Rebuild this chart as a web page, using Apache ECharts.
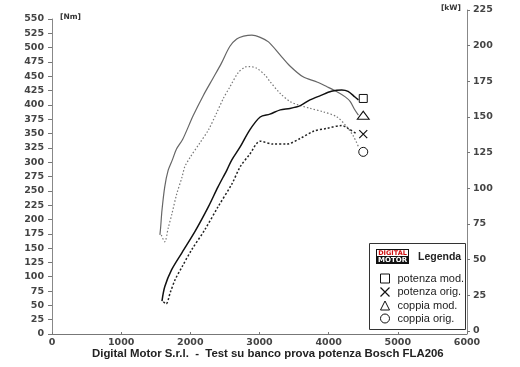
<!DOCTYPE html>
<html><head><meta charset="utf-8">
<script src="https://cdn.jsdelivr.net/npm/echarts@6/dist/echarts.min.js"></script>
<style>html,body{margin:0;padding:0;background:#fff}#c{width:520px;height:367px}</style>
</head><body><div id="c"></div>
<script>
// ---- data ----
const rpmMin = 0, rpmMax = 6000, rpmStep = 1000;
const nmMin = 0, nmMax = 550, nmStep = 25;
const kwMin = 0, kwMax = 225, kwStep = 25;

const seriesNames = ['potenza mod.', 'potenza orig.', 'coppia mod.', 'coppia orig.'];

const coppiaModRpm = [1560,1570,1590,1630,1680,1740,1800,1890,2040,2190,2330,2450,2570,2670,2770,2890,3010,3130,3300,3440,3630,3830,3970,4120,4240,4310,4380,4430];
const coppiaModNm  = [173,185,216,257,286,304,323,340,381,417,447,473,502,515,520,522,518,510,487,468,449,440,432,423,414,406,391,382];

const coppiaOrigRpm = [1580,1630,1680,1730,1800,1880,1920,2000,2140,2260,2380,2480,2570,2690,2790,2860,2960,3080,3150,3300,3440,3560,3730,3920,4120,4260,4360,4430];
const coppiaOrigNm  = [173,161,185,208,243,274,292,309,334,356,386,412,431,456,466,467,464,452,441,420,406,400,394,388,379,362,345,327];

const potenzaModRpm = [1590,1630,1730,1880,2070,2260,2400,2530,2600,2720,2860,3010,3150,3300,3440,3590,3730,3880,4040,4190,4280,4380,4430];
const potenzaModKw  = [21,31,43,55,70,87,101,113,120,129,141,150,152,155,156,158,162,165,168,169,168,164,162];

const potenzaOrigRpm = [1610,1650,1710,1780,1880,2020,2210,2400,2600,2720,2860,3010,3200,3390,3590,3780,3970,4190,4280,4410];
const potenzaOrigKw  = [20.5,19,27,36,45,57,71,87,103,115,124,133,131,131,135,140,142,144,142,138];

// end-of-curve markers
const markerRpm = 4500;
const markerPotenzaMod = 163, markerPotenzaOrig = 138, markerCoppiaMod = 382, markerCoppiaOrig = 318;

const titleText = 'Digital Motor S.r.l.  -  Test su banco prova potenza Bosch FLA206';

// ---- chart ----
const zip = (a, b) => a.map((v, i) => [v, b[i]]);
const X_PATH = 'path://M0,0L10,10M10,0L0,10';
const tickFont = {fontFamily: 'DejaVu Sans', fontWeight: 'bold', fontSize: 9.5, color: '#444', formatter: v => String(v)};
const hollow = {color: '#fff', borderColor: '#111', borderWidth: 1};

function mp(value, symbol, size) {
  return {
    symbol: symbol, symbolSize: size, silent: true,
    itemStyle: symbol === X_PATH ? {color: 'none', borderColor: '#111', borderWidth: 1.2} : hollow,
    label: {show: false},
    data: [{coord: [markerRpm, value]}]
  };
}

const chart = echarts.init(document.getElementById('c'), null, {renderer: 'canvas'});
chart.setOption({
  animation: false,
  backgroundColor: '#fff',
  title: {
    text: titleText, left: 92, top: 348, padding: 0,
    textStyle: {fontFamily: 'Liberation Sans, sans-serif', fontWeight: 'bold', fontSize: 11.4, color: '#222'}
  },
  grid: [
    {left: 52, right: 53, top: 19, bottom: 33},
    {left: 52, right: 53, top: 10, bottom: 36}
  ],
  xAxis: [
    {type: 'value', gridIndex: 0, min: rpmMin, max: rpmMax, interval: rpmStep,
     axisLine: {onZero: false, lineStyle: {color: '#777', width: 1}},
     axisTick: {inside: true, length: 2, lineStyle: {color: '#777'}},
     axisLabel: Object.assign({margin: 4}, tickFont),
     splitLine: {show: false}},
    {type: 'value', gridIndex: 1, min: rpmMin, max: rpmMax, show: false}
  ],
  yAxis: [
    {type: 'value', gridIndex: 0, position: 'left', min: nmMin, max: nmMax, interval: nmStep,
     name: '[Nm]', nameLocation: 'end', nameGap: 2,
     nameTextStyle: {fontFamily: 'DejaVu Sans', fontWeight: 'bold', fontSize: 7.5, color: '#333', align: 'left', verticalAlign: 'middle', padding: [0, 0, 0, 8]},
     axisLine: {show: true, onZero: false, lineStyle: {color: '#888', width: 1}},
     axisTick: {show: true, length: 4, lineStyle: {color: '#777'}},
     axisLabel: Object.assign({margin: 8}, tickFont),
     splitLine: {show: false}},
    {type: 'value', gridIndex: 1, position: 'right', min: kwMin, max: kwMax, interval: kwStep,
     name: '[kW]', nameLocation: 'end', nameGap: 2,
     nameTextStyle: {fontFamily: 'DejaVu Sans', fontWeight: 'bold', fontSize: 7.5, color: '#333', align: 'right', verticalAlign: 'middle', padding: [0, 6, 0, 0]},
     axisLine: {show: true, onZero: false, lineStyle: {color: '#888', width: 1}},
     axisTick: {show: true, length: 3, lineStyle: {color: '#777'}},
     axisLabel: Object.assign({margin: 6}, tickFont),
     splitLine: {show: false}}
  ],
  legend: {
    orient: 'vertical', left: 378, top: 272, itemWidth: 9, itemHeight: 9, itemGap: 0,
    selectedMode: false, padding: 0,
    textStyle: {fontFamily: 'Liberation Sans', fontSize: 11, color: '#222', lineHeight: 13, padding: [0, 0, 0, 3]},
    data: [
      {name: seriesNames[0], icon: 'rect', itemStyle: hollow},
      {name: seriesNames[1], icon: X_PATH, itemStyle: {color: 'none', borderColor: '#111', borderWidth: 1.2}},
      {name: seriesNames[2], icon: 'triangle', itemStyle: hollow},
      {name: seriesNames[3], icon: 'circle', itemStyle: hollow}
    ]
  },
  graphic: [
    {type: 'rect', shape: {x: 369.5, y: 243.5, width: 96, height: 86}, style: {fill: '#fff', stroke: '#333', lineWidth: 1}, z: 0},
    {type: 'rect', shape: {x: 376, y: 249, width: 33, height: 15}, style: {fill: '#111'}, z: 1},
    {type: 'rect', shape: {x: 377, y: 250, width: 31, height: 6}, style: {fill: '#fff'}, z: 2},
    {type: 'text', x: 392.5, y: 253.3, z: 3, style: {text: 'DIGITAL', fill: '#d01010', font: 'bold 6.5px DejaVu Sans', align: 'center', verticalAlign: 'middle'}},
    {type: 'text', x: 392.5, y: 260.5, z: 3, style: {text: 'MOTOR', fill: '#fff', font: 'bold 7px DejaVu Sans', align: 'center', verticalAlign: 'middle'}},
    {type: 'text', x: 418, y: 257, z: 3, style: {text: 'Legenda', fill: '#222', font: 'bold 10.5px "Liberation Sans"', verticalAlign: 'middle'}}
  ],
  series: [
    {name: seriesNames[0], type: 'line', xAxisIndex: 1, yAxisIndex: 1, data: zip(potenzaModRpm, potenzaModKw),
     symbol: 'none', smooth: 0.3, color: '#111', lineStyle: {color: '#111', width: 1.5},
     markPoint: mp(markerPotenzaMod, 'rect', 8), z: 3},
    {name: seriesNames[1], type: 'line', xAxisIndex: 1, yAxisIndex: 1, data: zip(potenzaOrigRpm, potenzaOrigKw),
     symbol: 'none', smooth: 0.3, color: '#111', lineStyle: {color: '#222', width: 1.5, type: [2, 2]},
     markPoint: mp(markerPotenzaOrig, X_PATH, 8), z: 3},
    {name: seriesNames[2], type: 'line', xAxisIndex: 0, yAxisIndex: 0, data: zip(coppiaModRpm, coppiaModNm),
     symbol: 'none', smooth: 0.3, color: '#666', lineStyle: {color: '#666', width: 1.2},
     markPoint: mp(markerCoppiaMod, 'triangle', [12, 8]), z: 2},
    {name: seriesNames[3], type: 'line', xAxisIndex: 0, yAxisIndex: 0, data: zip(coppiaOrigRpm, coppiaOrigNm),
     symbol: 'none', smooth: 0.3, color: '#777', lineStyle: {color: '#777', width: 1.2, type: [1.5, 2]},
     markPoint: mp(markerCoppiaOrig, 'circle', 9), z: 2}
  ]
});
</script></body></html>
